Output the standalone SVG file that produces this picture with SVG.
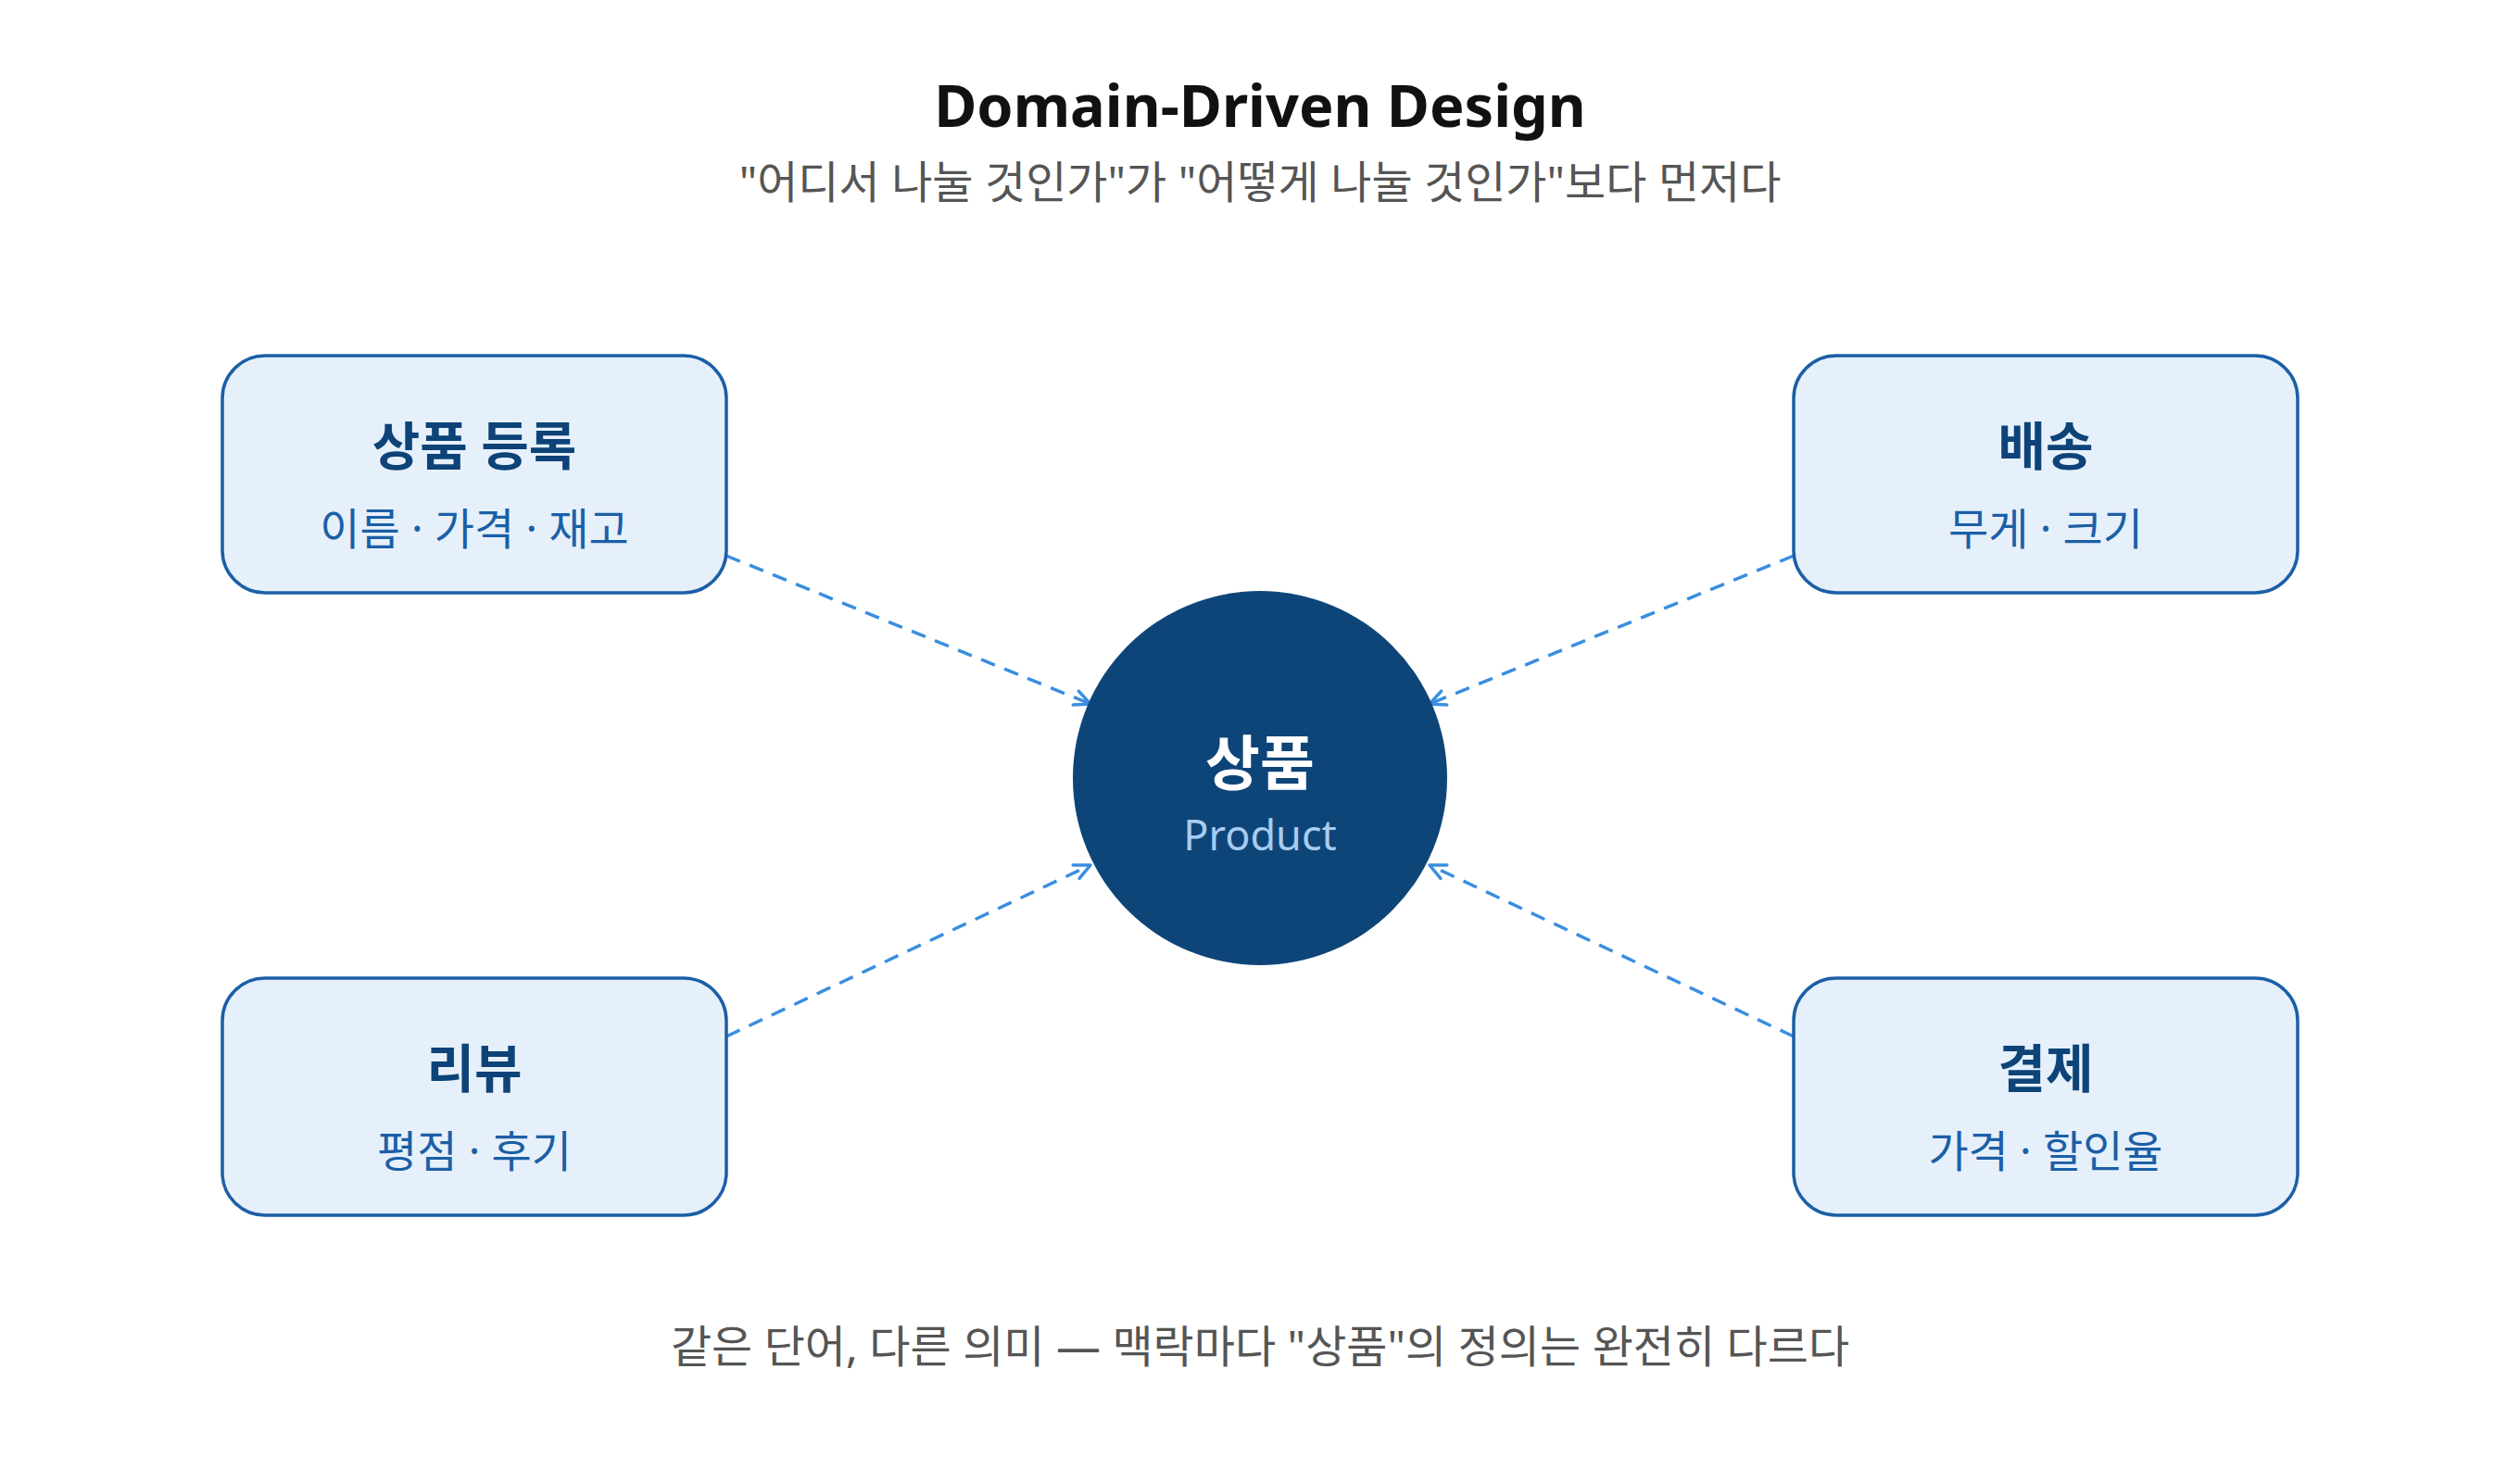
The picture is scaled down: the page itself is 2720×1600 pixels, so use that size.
<svg xmlns="http://www.w3.org/2000/svg" width="2720" height="1600" viewBox="0 0 2720 1600">
  <defs>
    <style>
      .bg { fill: #ffffff; }
      .box { fill: #E6F0FB; stroke: #1B5FA6; stroke-width: 3.5; }
      .boxTitle { font-family: "Noto Sans", "Noto Sans CJK KR", sans-serif; font-weight: 700; font-size: 56px; fill: #0D4377; text-anchor: middle; }
      .boxSub { font-family: "Noto Sans", "Noto Sans CJK KR", sans-serif; font-weight: 400; font-size: 47px; fill: #1B5FA6; text-anchor: middle; }
      .core { fill: #0E4579; }
      .coreTitle { font-family: "Noto Sans CJK KR", "Noto Sans", sans-serif; font-weight: 700; font-size: 64px; fill: #ffffff; text-anchor: middle; }
      .coreSub { font-family: "Noto Sans", "Noto Sans CJK KR", sans-serif; font-weight: 400; font-size: 45px; fill: #A8CCF0; text-anchor: middle; }
      .title { font-family: "Noto Sans", "Noto Sans CJK KR", sans-serif; font-weight: 700; font-size: 63px; fill: #111111; text-anchor: middle; }
      .subtitle { font-family: "Noto Sans", "Noto Sans CJK KR", sans-serif; font-weight: 400; font-size: 48px; fill: #555555; text-anchor: middle; }
      .footer { font-family: "Noto Sans", "Noto Sans CJK KR", sans-serif; font-weight: 400; font-size: 48px; fill: #555555; text-anchor: middle; }
      .conn { fill: none; stroke: #3A8EE0; stroke-width: 3.5; stroke-dasharray: 16 11; }
    </style>
    <marker id="arrow" markerUnits="userSpaceOnUse" markerWidth="24" markerHeight="24" viewBox="0 0 24 24" refX="20" refY="12" orient="auto">
      <path d="M3,4 L20,12 L3,20" fill="none" stroke="#3A8EE0" stroke-width="3.5" stroke-linecap="round" stroke-linejoin="round"/>
    </marker>
  </defs>

  <rect class="bg" x="0" y="0" width="2720" height="1600"/>

  <text class="title" x="1360" y="137">Domain-Driven Design</text>
  <text class="subtitle" x="1360" y="214">"어디서 나눌 것인가"가 "어떻게 나눌 것인가"보다 먼저다</text>

  <g id="connectors">
    <line class="conn" x1="784" y1="600" x2="1177" y2="760" marker-end="url(#arrow)"/>
    <line class="conn" x1="1936" y1="600" x2="1543" y2="760" marker-end="url(#arrow)"/>
    <line class="conn" x1="784" y1="1119" x2="1177" y2="934" marker-end="url(#arrow)"/>
    <line class="conn" x1="1936" y1="1119" x2="1543" y2="934" marker-end="url(#arrow)"/>
  </g>

  <g id="product-registration">
    <rect class="box" x="240" y="384" width="544" height="256" rx="46" ry="46"/>
    <text class="boxTitle" x="512" y="502">상품 등록</text>
    <text class="boxSub" x="512" y="588">이름 · 가격 · 재고</text>
  </g>

  <g id="shipping">
    <rect class="box" x="1936" y="384" width="544" height="256" rx="46" ry="46"/>
    <text class="boxTitle" x="2208" y="502">배송</text>
    <text class="boxSub" x="2208" y="588">무게 · 크기</text>
  </g>

  <g id="review">
    <rect class="box" x="240" y="1056" width="544" height="256" rx="46" ry="46"/>
    <text class="boxTitle" x="512" y="1174">리뷰</text>
    <text class="boxSub" x="512" y="1260">평점 · 후기</text>
  </g>

  <g id="payment">
    <rect class="box" x="1936" y="1056" width="544" height="256" rx="46" ry="46"/>
    <text class="boxTitle" x="2208" y="1174">결제</text>
    <text class="boxSub" x="2208" y="1260">가격 · 할인율</text>
  </g>

  <g id="product-core">
    <circle class="core" cx="1360" cy="840" r="202"/>
    <text class="coreTitle" x="1360" y="847">상품</text>
    <text class="coreSub" x="1360" y="918">Product</text>
  </g>

  <text class="footer" x="1360" y="1471">같은 단어, 다른 의미 — 맥락마다 "상품"의 정의는 완전히 다르다</text>
</svg>
